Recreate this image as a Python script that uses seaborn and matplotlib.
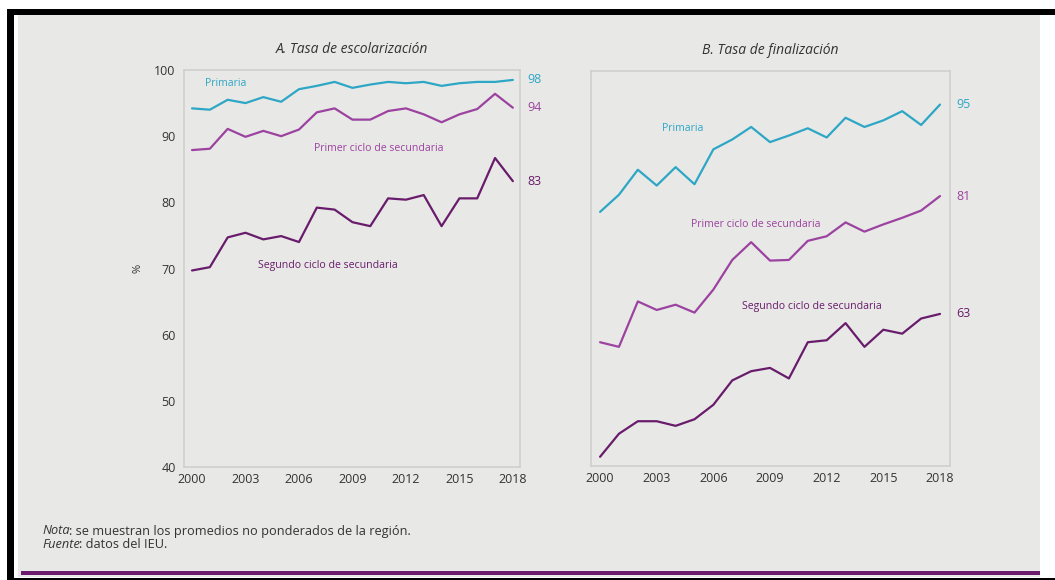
import numpy as np
import pandas as pd
import matplotlib
matplotlib.use("Agg")
import matplotlib.pyplot as plt
from matplotlib.patches import Rectangle
import seaborn as sns

years = list(range(2000, 2019))

# A. Tasa de escolarización
esc_primaria = [94.2, 94.0, 95.5, 95.0, 95.9, 95.2, 97.1, 97.6, 98.2, 97.3,
                97.8, 98.2, 98.0, 98.2, 97.6, 98.0, 98.2, 98.2, 98.5]
esc_primer = [87.9, 88.1, 91.1, 89.9, 90.8, 90.0, 91.0, 93.6, 94.2, 92.5,
              92.5, 93.8, 94.2, 93.3, 92.1, 93.3, 94.1, 96.4, 94.3]
esc_segundo = [69.7, 70.2, 74.7, 75.4, 74.4, 74.9, 74.0, 79.2, 78.9, 77.0,
               76.4, 80.6, 80.4, 81.1, 76.4, 80.6, 80.6, 86.7, 83.2]

# B. Tasa de finalización
fin_primaria = [78.6, 81.2, 85.0, 82.6, 85.4, 82.8, 88.1, 89.6, 91.5, 89.2,
                90.2, 91.3, 89.9, 92.9, 91.5, 92.5, 93.9, 91.8, 94.9]
fin_primer = [58.8, 58.1, 65.0, 63.7, 64.5, 63.3, 66.8, 71.3, 74.0, 71.2,
              71.3, 74.2, 74.9, 77.0, 75.6, 76.7, 77.7, 78.8, 81.0]
fin_segundo = [41.4, 44.9, 46.8, 46.8, 46.1, 47.1, 49.3, 53.0, 54.4, 54.9,
               53.3, 58.8, 59.1, 61.7, 58.1, 60.7, 60.1, 62.4, 63.1]

series_names = ["Primaria", "Primer ciclo de secundaria", "Segundo ciclo de secundaria"]
end_labels_a = ["98", "94", "83"]
end_labels_b = ["95", "81", "63"]
x_ticks = [2000, 2003, 2006, 2009, 2012, 2015, 2018]
y_ticks = [40, 50, 60, 70, 80, 90, 100]
titles = ["A. Tasa de escolarización", "B. Tasa de finalización"]
note_lines = [("Nota", ": se muestran los promedios no ponderados de la región."),
              ("Fuente", ": datos del IEU.")]

colors = {"Primaria": "#2ea6c6",
          "Primer ciclo de secundaria": "#9c42a0",
          "Segundo ciclo de secundaria": "#691c6c"}

def long_df(a, b, c):
    rows = []
    for name, vals in zip(series_names, [a, b, c]):
        for y, v in zip(years, vals):
            rows.append({"year": y, "value": v, "serie": name})
    return pd.DataFrame(rows)

df_a = long_df(esc_primaria, esc_primer, esc_segundo)
df_b = long_df(fin_primaria, fin_primer, fin_segundo)

sns.set_style("white")
plt.rcParams["font.family"] = ["Open Sans", "DejaVu Sans"]

W, H = 1055, 580
fig = plt.figure(figsize=(W / 100, H / 100), dpi=100, facecolor="white")

def fx(px):
    return px / W

def fy(py):
    return 1 - py / H

bg = "#e8e9e6"
def add_rect(x0, y0, x1, y1, color, z):
    fig.patches.append(Rectangle((fx(x0), fy(y1)), fx(x1 - x0), (y1 - y0) / H,
                                 transform=fig.transFigure, facecolor=color,
                                 edgecolor="none", zorder=z))

add_rect(18, 15, 1040, 577, bg, -3)          # grey panel
add_rect(7, 9, 1055, 15, "black", -2)        # top frame
add_rect(7, 9, 14, 580, "black", -2)         # left frame
add_rect(7, 578, 1055, 580, "black", -2)     # bottom frame
add_rect(21, 571, 1040, 575, "#6b1a6e", -2)  # purple bar

ax_a = fig.add_axes([fx(184), fy(467), fx(520 - 184), (467 - 70) / H])
ax_b = fig.add_axes([fx(591), fy(466), fx(950 - 591), (466 - 71) / H])

spine_col = "#cfd0cd"
text_col = "#333333"

for ax, df, xlim in [(ax_a, df_a, (1999.55, 2018.4)), (ax_b, df_b, (1999.52, 2018.53))]:
    ax.set_facecolor(bg)
    sns.lineplot(data=df, x="year", y="value", hue="serie", palette=colors,
                 linewidth=1.6, legend=False, ax=ax)
    ax.set_xlim(*xlim)
    ax.set_ylim(40, 100)
    ax.set_xticks(x_ticks)
    ax.set_xticklabels([str(t) for t in x_ticks], fontsize=9, color=text_col)
    ax.set_xlabel("")
    ax.set_ylabel("")
    for s in ax.spines.values():
        s.set_visible(True)
        s.set_color(spine_col)
        s.set_linewidth(1.2)
    ax.tick_params(axis="x", length=0, pad=4)

ax_a.set_yticks(y_ticks)
ax_a.set_yticklabels([str(t) for t in y_ticks], fontsize=9, color=text_col)
ax_a.tick_params(axis="y", length=3, color=spine_col, pad=3)
ax_a.set_ylabel("%", fontsize=8, color=text_col, labelpad=8)
ax_b.set_yticks([])

ax_a.set_title(titles[0], fontsize=10, style="italic", color=text_col, pad=12)
ax_b.set_title(titles[1], fontsize=10, style="italic", color=text_col, pad=12)

lab_kw = dict(fontsize=7.6, va="center")
ax_a.text(2000.75, 98.0, series_names[0], color=colors[series_names[0]], ha="left", **lab_kw)
ax_a.text(2010.5, 88.2, series_names[1], color=colors[series_names[1]], ha="center", **lab_kw)
ax_a.text(2003.7, 70.5, series_names[2], color=colors[series_names[2]], ha="left", **lab_kw)
ax_b.text(2003.3, 91.2, series_names[0], color=colors[series_names[0]], ha="left", **lab_kw)
ax_b.text(2004.8, 76.7, series_names[1], color=colors[series_names[1]], ha="left", **lab_kw)
ax_b.text(2007.5, 64.2, series_names[2], color=colors[series_names[2]], ha="left", **lab_kw)

for ax, labs, vals_list, xo in [(ax_a, end_labels_a, [esc_primaria, esc_primer, esc_segundo], 2018.8),
                                (ax_b, end_labels_b, [fin_primaria, fin_primer, fin_segundo], 2018.85)]:
    for name, lab, vals in zip(series_names, labs, vals_list):
        ax.text(xo, vals[-1], lab, color=colors[name], fontsize=9, ha="left", va="center",
                clip_on=False)

# footer with italic lead word
renderer = fig.canvas.get_renderer()
for (lead, rest), py in zip(note_lines, [531, 545]):
    t = fig.text(fx(42), fy(py), lead, fontsize=9.2, style="italic", color=text_col, va="center")
    bb = t.get_window_extent(renderer=renderer)
    fig.text(bb.x1 / W - 0.0008, fy(py), rest, fontsize=9.2, color=text_col, va="center")

fig.savefig("out.png", dpi=100, facecolor="white")
